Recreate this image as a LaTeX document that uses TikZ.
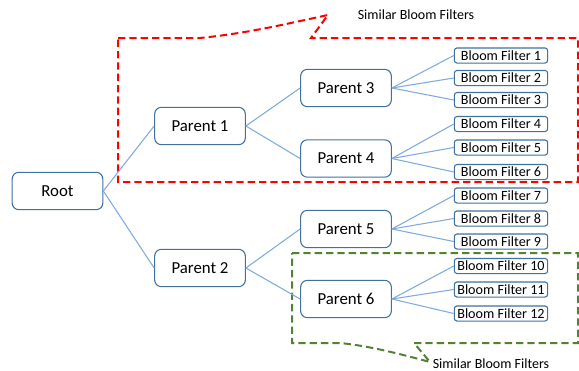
\documentclass[tikz,border=0pt]{standalone}
\usepackage{fontspec}
\setmainfont{Carlito}
\usepackage{xcolor}
\usetikzlibrary{positioning}
\definecolor{boxline}{HTML}{41719C}
\definecolor{linkblue}{HTML}{7FAADF}
\definecolor{simred}{HTML}{FF0000}
\definecolor{simgreen}{HTML}{548235}

\begin{document}
\begin{tikzpicture}[x=0.75pt,y=-0.75pt,
    parent/.style={draw=boxline,rounded corners=5pt,minimum width=68pt,minimum height=28pt,inner sep=1pt,font=\fontsize{12.6}{14}\selectfont,line width=0.8pt,fill=white},
    filter/.style={draw=boxline,rounded corners=2pt,minimum width=70pt,minimum height=11.3pt,inner sep=0pt,font=\fontsize{10.6}{11}\selectfont,line width=0.8pt,fill=white},
    link/.style={draw=linkblue,line width=0.8pt},
    similar/.style={dash pattern=on 5.5pt off 3pt,line width=1.5pt},
    note/.style={font=\fontsize{10.5}{12}\selectfont}
  ]
    \useasboundingbox (0,0) rectangle (579,371);

    % similar groups
    \draw[simred,similar] (118,38) -- (200,38) .. controls (250,33) and (290,23) .. (328,15) -- (311,38) -- (578,38) -- (578,182) -- (118,182) -- cycle;
    \draw[simgreen,similar] (292,253) -- (578,253) -- (578,343) -- (414,343) -- (430,362) .. controls (400,354) and (370,346) .. (340,343) -- (292,343) -- cycle;
    \node[note] (simtop) at (416,15) {Similar Bloom Filters};
    \node[note] (simbot) at (491,364) {Similar Bloom Filters};

    % tree
    \node[parent] (root) at (57.5,191) {Root};
    \node[parent] (p1) at (200,126) {Parent 1};
    \node[parent] (p2) at (200,268) {Parent 2};
    \node[parent] (p3) at (346,88) {Parent 3};
    \node[parent] (p4) at (346,158.5) {Parent 4};
    \node[parent] (p5) at (346,229) {Parent 5};
    \node[parent] (p6) at (346,299) {Parent 6};

    \node[filter] (bf1) at (501,55.5) {Bloom Filter 1};
    \node[filter] (bf2) at (501,78) {Bloom Filter 2};
    \node[filter] (bf3) at (501,100) {Bloom Filter 3};
    \node[filter] (bf4) at (501,124) {Bloom Filter 4};
    \node[filter] (bf5) at (501,147.5) {Bloom Filter 5};
    \node[filter] (bf6) at (501,172) {Bloom Filter 6};
    \node[filter] (bf7) at (501,195.5) {Bloom Filter 7};
    \node[filter] (bf8) at (501,218.5) {Bloom Filter 8};
    \node[filter] (bf9) at (501,241.5) {Bloom Filter 9};
    \node[filter] (bf10) at (501,266) {Bloom Filter 10};
    \node[filter] (bf11) at (501,289.5) {Bloom Filter 11};
    \node[filter] (bf12) at (501,313.5) {Bloom Filter 12};

    \draw[link] (root.east) -- (p1.west);
    \draw[link] (root.east) -- (p2.west);
    \draw[link] (p1.east) -- (p3.west);
    \draw[link] (p1.east) -- (p4.west);
    \draw[link] (p2.east) -- (p5.west);
    \draw[link] (p2.east) -- (p6.west);
    \draw[link] (p3.east) -- (bf1.west);
    \draw[link] (p3.east) -- (bf2.west);
    \draw[link] (p3.east) -- (bf3.west);
    \draw[link] (p4.east) -- (bf4.west);
    \draw[link] (p4.east) -- (bf5.west);
    \draw[link] (p4.east) -- (bf6.west);
    \draw[link] (p5.east) -- (bf7.west);
    \draw[link] (p5.east) -- (bf8.west);
    \draw[link] (p5.east) -- (bf9.west);
    \draw[link] (p6.east) -- (bf10.west);
    \draw[link] (p6.east) -- (bf11.west);
    \draw[link] (p6.east) -- (bf12.west);
  \end{tikzpicture}
\end{document}
